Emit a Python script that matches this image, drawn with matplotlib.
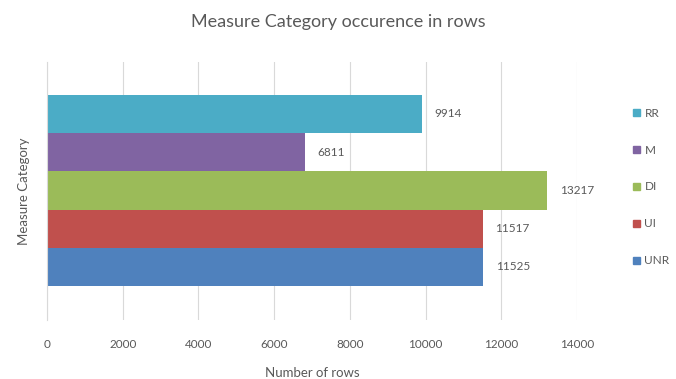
import numpy as np
import matplotlib.pyplot as plt
from matplotlib.patches import Patch

# conteggi per categoria di misura
categories = ["RR", "M", "DI", "UI", "UNR"]
counts = [9914, 6811, 13217, 11517, 11525]
colors = ["#4BACC6", "#8064A2", "#9BBB59", "#C0504D", "#4F81BD"]
xticks = [0, 2000, 4000, 6000, 8000, 10000, 12000, 14000]

plt.rcParams['font.family'] = ['Lato', 'DejaVu Sans']
txt = "#595959"

fig = plt.figure(figsize=(6.76, 3.79), dpi=100)
ax = fig.add_axes([47 / 676, 59 / 379, 530 / 676, 258 / 379])

# barre affiancate, la prima in alto
ypos = np.arange(len(categories))[::-1]
ax.barh(ypos, counts, height=1.0, color=colors)
for y, v in zip(ypos, counts):
    ax.text(v + 330, y, str(v), va="center", ha="left", fontsize=8.5, color=txt)

ax.set_xlim(0, 14000)
ax.set_ylim(-0.5 - 0.89, 4.5 + 0.86)
ax.set_xticks(xticks)
ax.set_xticklabels([str(t) for t in xticks], fontsize=8.5, color=txt)
ax.set_yticks([])
ax.tick_params(axis="x", length=0, pad=14)
ax.grid(axis="x", color="#D9D9D9", lw=0.8)
ax.set_axisbelow(True)
for s in ["top", "right", "bottom"]:
    ax.spines[s].set_visible(False)
ax.spines["left"].set_color("#D9D9D9")

ax.set_xlabel("Number of rows", fontsize=9.5, color=txt, labelpad=12)
ax.set_ylabel("Measure Category", fontsize=9.5, color=txt, labelpad=12)
fig.text(0.5, 1 - 22 / 379, "Measure Category occurence in rows", ha="center", va="center",
         fontsize=13, color=txt)

handles = [Patch(color=c) for c in colors]
fig.legend(handles, categories, loc="center left", bbox_to_anchor=(622 / 676, 1 - 187 / 379),
           frameon=False, fontsize=8.5, labelcolor=txt, handlelength=0.6, handleheight=0.6,
           handletextpad=0.4, labelspacing=2.2)

fig.savefig("out.png", dpi=100)
